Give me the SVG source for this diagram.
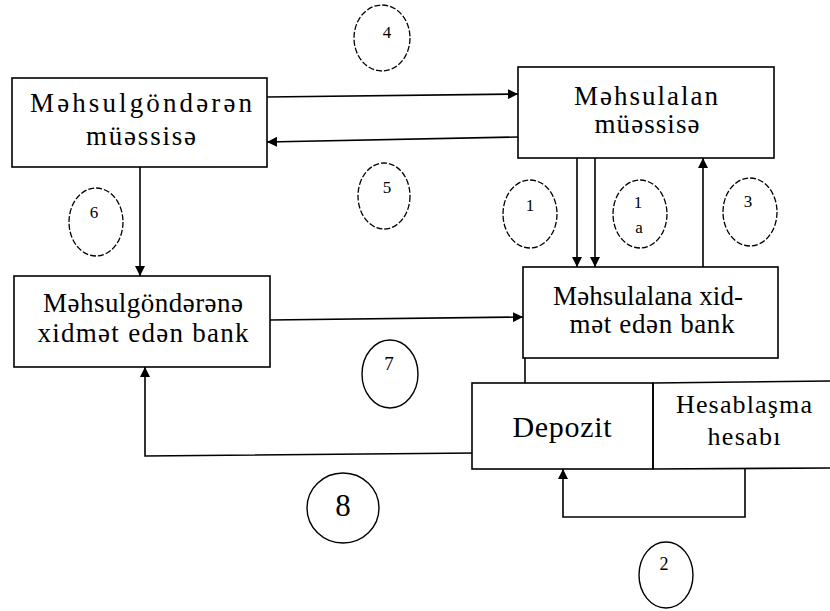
<svg xmlns="http://www.w3.org/2000/svg" width="830" height="611" viewBox="0 0 830 611">
<defs>
<marker id="ah" viewBox="0 0 10 10" refX="10" refY="5" markerWidth="10" markerHeight="10" markerUnits="userSpaceOnUse" orient="auto">
<path d="M0,0 L10,5 L0,10 Z" fill="#000"/>
</marker>
</defs>
<style>
.box{fill:#fff;stroke:#000;stroke-width:1.6}
.ln{fill:none;stroke:#000;stroke-width:1.6}
.arr{fill:none;stroke:#000;stroke-width:1.6;marker-end:url(#ah)}
.cd{fill:none;stroke:#000;stroke-width:1.3;stroke-dasharray:6 2}
.cs{fill:none;stroke:#000;stroke-width:1.4}
.t{font-family:"Liberation Serif","Times New Roman",serif;fill:#000;text-anchor:middle}
.bt{font-size:27px}
.n{font-size:17px}
</style>
<rect width="830" height="611" fill="#fff"/>
<g id="connectors">
<line class="arr" x1="267" y1="97" x2="518" y2="94"/>
<line class="arr" x1="518" y1="137" x2="267" y2="142"/>
<line class="arr" x1="140" y1="167" x2="140" y2="276"/>
<line class="arr" x1="577" y1="158" x2="577" y2="267"/>
<line class="arr" x1="595" y1="158" x2="595" y2="267"/>
<line class="arr" x1="703" y1="267" x2="703" y2="158"/>
<line class="arr" x1="270" y1="320" x2="523" y2="317"/>
<line class="ln" x1="525" y1="358" x2="525" y2="383"/>
<polyline class="arr" points="476,453 145,456 145,367"/>
<polyline class="arr" points="745,469 745,517 563,517 563,469"/>
</g>
<g id="n1">
<rect class="box" x="12" y="78" width="255" height="89"/>
<text class="t bt" x="141" y="112" textLength="222" lengthAdjust="spacing">Məhsulgöndərən</text>
<text class="t bt" x="141" y="145" textLength="110" lengthAdjust="spacing">müəssisə</text>
</g>
<g id="n2">
<rect class="box" x="518" y="67" width="256" height="91"/>
<text class="t bt" x="646" y="105" textLength="144" lengthAdjust="spacing">Məhsulalan</text>
<text class="t bt" x="647" y="133" textLength="105" lengthAdjust="spacing">müəssisə</text>
</g>
<g id="n3">
<rect class="box" x="14" y="276" width="256" height="91"/>
<text class="t bt" x="143" y="312" textLength="200" lengthAdjust="spacing">Məhsulgöndərənə</text>
<text class="t bt" x="143" y="342" textLength="211" lengthAdjust="spacing">xidmət edən bank</text>
</g>
<g id="n4">
<rect class="box" x="523" y="267" width="255" height="91"/>
<text class="t bt" x="648" y="305" textLength="190" lengthAdjust="spacing">Məhsulalana xid-</text>
<text class="t bt" x="652" y="333" textLength="165" lengthAdjust="spacing">mət edən bank</text>
</g>
<g id="n5">
<rect class="box" x="472" y="383" width="181" height="86"/>
<text class="t" font-size="30" x="562" y="437" textLength="99" lengthAdjust="spacing">Depozit</text>
</g>
<g id="n6">
<path class="ln" d="M653,383 L830,381 M653,469 L830,468 M653,383 L653,469"/>
<text class="t" font-size="26" x="744" y="413" textLength="136" lengthAdjust="spacing">Hesablaşma</text>
<text class="t" font-size="26" x="744" y="445" textLength="73" lengthAdjust="spacing">hesabı</text>
</g>
<g id="c4">
<ellipse class="cd" cx="382" cy="38" rx="28" ry="33"/>
<text class="t n" x="387" y="38">4</text>
</g>
<g id="c5">
<ellipse class="cd" cx="384" cy="196" rx="26" ry="33"/>
<text class="t n" x="387" y="193">5</text>
</g>
<g id="c6">
<ellipse class="cd" cx="96" cy="222" rx="27" ry="34"/>
<text class="t n" x="94" y="218">6</text>
</g>
<g id="c1">
<ellipse class="cd" cx="530" cy="214" rx="27" ry="34"/>
<text class="t n" x="530" y="211">1</text>
</g>
<g id="c1a">
<ellipse class="cd" cx="640" cy="214" rx="27" ry="34"/>
<text class="t n" x="638" y="208">1</text>
<text class="t n" x="639" y="233">a</text>
</g>
<g id="c3">
<ellipse class="cd" cx="750" cy="212" rx="27" ry="34"/>
<text class="t n" x="748" y="207">3</text>
</g>
<g id="c7">
<ellipse class="cs" cx="390" cy="374" rx="28" ry="34"/>
<text class="t" x="389" y="370" font-size="19">7</text>
</g>
<g id="c8">
<ellipse class="cs" cx="343" cy="508" rx="36" ry="35"/>
<text class="t" x="343" y="516" font-size="31">8</text>
</g>
<g id="c2">
<ellipse class="cs" cx="666" cy="575" rx="27" ry="33"/>
<text class="t" x="664" y="570" font-size="18">2</text>
</g>
</svg>
